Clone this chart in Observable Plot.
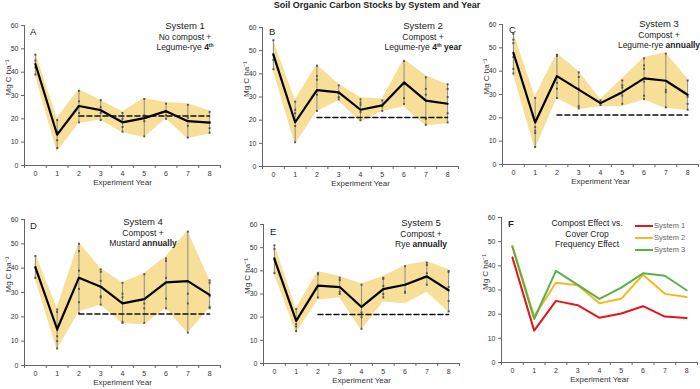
<!DOCTYPE html>
<html>
<head>
<meta charset="utf-8">
<script src="https://cdn.jsdelivr.net/npm/d3@7"></script>
<script src="https://cdn.jsdelivr.net/npm/@observablehq/plot@0.6"></script>
<style>
  html, body { margin: 0; padding: 0; background: #fff; }
  #wrap { position: relative; width: 700px; height: 389px; overflow: hidden;
          font-family: "Liberation Sans", Arial, sans-serif; color: #222; }
  #wrap > div.panel { position: absolute; }
  .title { position: absolute; left: 27px; top: 0; width: 700px; text-align: center;
           font-weight: bold; font-size: 9px; line-height: 11px; }
  .note { position: absolute; text-align: center; transform: translateX(-50%);
          white-space: nowrap; font-size: 8.5px; line-height: 10.5px; color: #222; }
  .note .h { font-size: 9.5px; }
  .note sup { font-size: 5px; vertical-align: 3px; line-height: 0; }
  .letter { position: absolute; font-size: 9.5px; color: #222; }
  .legend { position: absolute; font-size: 7.5px; color: #666; line-height: 12px; }
  .legend span.sw { display: inline-block; width: 18px; height: 2px; vertical-align: middle; margin-right: 1px; }
</style>
</head>
<body>
<div id="wrap">
  <div class="title">Soil Organic Carbon Stocks by System and Year</div>
</div>
<script>
// ---------- data ----------
const years = [0, 1, 2, 3, 4, 5, 6, 7, 8];
const xBoundaryTicks = [-0.5, 0.5, 1.5, 2.5, 3.5, 4.5, 5.5, 6.5, 7.5, 8.5];
const yTicks = [0, 10, 20, 30, 40, 50, 60];
const baselineYears = [2, 8];
const baselineValue = 21.2;

const s1Mean = [43.5, 13.2, 25.5, 23.7, 18.5, 20.3, 23.3, 19.0, 18.4];
const s1Lo   = [38.5, 5.8, 18.0, 19.5, 14.0, 12.0, 20.0, 11.5, 13.5];
const s1Hi   = [48.5, 20.3, 32.6, 28.0, 23.0, 28.7, 27.0, 26.5, 23.5];
const s1Reps = [[47.5,45,42,39],[19.5,14.5,10.8,7.5],[32,27.5,22.5,18.5],[28,25,22.5,19.5],
                [22.5,20,16.5,14.5],[28.5,21.5,19,12.5],[26.5,23,21.5,20],[26,20.5,17,12],[23,18.5,16,14]];

const s2Mean = [48.3, 19.1, 33.0, 32.0, 24.5, 26.4, 36.3, 28.4, 27.1];
const s2Lo   = [41.3, 9.5, 23.7, 28.4, 19.1, 23.7, 25.8, 17.6, 18.4];
const s2Hi   = [54.5, 28.7, 43.9, 35.6, 29.8, 29.1, 46.3, 39.2, 35.4];
const s2Reps = [[54.5,48.5,46,42],[28,24.5,23,17.5,10.5],[43.5,39,37.5,31,24],[35,31.5,30,29],
                [29,27.5,26.5,23.5,20],[28.5,26,24],[45.5,35.5,29.5,27],[38.5,33.5,31,20.5,18],[35.5,33.5,30,23,19]];

const s3Mean = [47.9, 18.0, 37.9, 32.1, 26.3, 31.0, 36.9, 35.9, 29.9];
const s3Lo   = [38.7, 6.4, 28.3, 23.6, 24.7, 24.7, 27.6, 24.0, 23.3];
const s3Hi   = [56.6, 29.0, 47.6, 40.0, 27.9, 36.7, 45.9, 47.9, 36.7];
const s3Reps = [[56,53.5,52,46,41,39],[28.5,16,14.5,13.5,7.5],[47,46.5,35,32.5,28.5],[39.5,37.5,32.5,25,24],
                [27.5,26.5,25.5],[36,34,33,29.5,26],[45.5,42.5,41,35.5,29.5,28],[47.5,32,31,24.5],[36,29,26,23.5]];

const s4Mean = [40.3, 14.9, 36.1, 32.4, 25.5, 27.3, 34.2, 34.7, 29.0];
const s4Lo   = [35.4, 6.4, 22.0, 24.9, 17.3, 16.7, 23.5, 13.3, 23.5];
const s4Hi   = [46.0, 23.5, 50.5, 39.9, 34.0, 37.8, 44.7, 55.3, 35.1];
const s4Reps = [[45,40.5,36],[23,22,14.5,12,10,7],[50,47,39,31.5,26,21.5],[39.5,38.5,34.8,28.5,28,25],
                [34,29.5,28,18,17.5],[37.5,25.5,23.5,17.5],[44,43,36,27.5,23.5],[55,29.5,25.5,13.5],[35,34,28.5,24,23.5]];

const s5Mean = [45.2, 18.4, 33.6, 33.0, 24.4, 32.1, 34.0, 37.6, 31.6];
const s5Lo   = [38.5, 13.2, 27.3, 28.4, 14.3, 26.5, 25.8, 30.8, 22.2];
const s5Hi   = [51.6, 23.7, 39.7, 37.6, 34.4, 37.6, 42.3, 44.0, 40.6];
const s5Reps = [[51,49.5,45.5,39],[23.5,17,16,14],[39,38.5,33.5,28.5],[37,36,31,30],
                [34,22,20,15],[37,36.5,33.5,30,28.5],[42,31,30.5],[43.5,42.5,39,34],[40,39.5,33,27,22.5]];

const fSeries = ["System 1", "System 2", "System 3"];
const fColors = ["#e3161b", "#f6b722", "#5bb04a"];

// ---------- drawing ----------
const wrap = document.getElementById("wrap");
const bandFill = "#f7df98";

function axes(xLabel) {
  return [
    Plot.ruleX([-0.5], {stroke: "#666", strokeWidth: 1}),
    Plot.ruleY([0], {stroke: "#666", strokeWidth: 1}),
    Plot.axisY({ticks: yTicks, tickSize: 3, tickPadding: 3, label: null, stroke: "#666", fill: "#333"}),
    Plot.axisX({ticks: xBoundaryTicks, tickSize: 3, tickFormat: () => "", label: null, stroke: "#666"}),
    Plot.axisX({ticks: years, tickSize: 0, tickPadding: 6, label: null, fill: "#333"}),
    Plot.text(["Mg C ha⁻¹"], {frameAnchor: "left", dx: -16, rotate: -90, text: d => d, fontSize: 8, fill: "#333"}),
    Plot.text([xLabel], {frameAnchor: "bottom", dy: 19, text: d => d, fontSize: 8, fill: "#333"})
  ];
}

function place(svg, left, top) {
  const d = document.createElement("div");
  d.className = "panel";
  d.style.left = left + "px";
  d.style.top = top + "px";
  d.appendChild(svg);
  wrap.appendChild(d);
}

function systemPanel(mean, lo, hi, reps, cfg) {
  const rows = years.map(i => ({x: i, mean: mean[i], lo: lo[i], hi: hi[i],
                                rmin: d3.min(reps[i]), rmax: d3.max(reps[i])}));
  const pts = years.flatMap(i => reps[i].map(v => ({x: i, y: v})));
  const base = baselineYears.map(x => ({x, y: baselineValue}));
  const svg = Plot.plot({
    width: cfg.w, height: cfg.h,
    marginTop: cfg.mt, marginBottom: cfg.mb, marginLeft: cfg.ml, marginRight: cfg.mr,
    style: {fontFamily: "Liberation Sans, Arial, sans-serif", fontSize: "7px", background: "transparent", overflow: "visible"},
    x: {domain: [-0.5, 8.5], axis: null},
    y: {domain: [0, 60], axis: null},
    marks: [
      Plot.areaY(rows, {x: "x", y1: "lo", y2: "hi", fill: bandFill, curve: "linear"}),
      Plot.ruleX(rows, {x: "x", y1: "rmin", y2: "rmax", stroke: "#8c8c84", strokeWidth: 1}),
      Plot.dot(pts, {x: "x", y: "y", symbol: "square", r: 1.1, fill: "#555", stroke: null}),
      Plot.line(base, {x: "x", y: "y", stroke: "#111", strokeWidth: 1.5, strokeDasharray: "5,3"}),
      Plot.line(rows, {x: "x", y: "mean", stroke: "#000", strokeWidth: 2.2}),
      ...axes("Experiment Year")
    ]
  });
  place(svg, cfg.left, cfg.top);
}

systemPanel(s1Mean, s1Lo, s1Hi, s1Reps, {left: 0,   top: 0,   w: 232, h: 190, mt: 25, mb: 25, ml: 24, mr: 12});
systemPanel(s2Mean, s2Lo, s2Hi, s2Reps, {left: 238, top: 0,   w: 232, h: 190, mt: 27, mb: 24, ml: 24, mr: 12});
systemPanel(s3Mean, s3Lo, s3Hi, s3Reps, {left: 478, top: 0,   w: 222, h: 190, mt: 24, mb: 26, ml: 24, mr: 2});
systemPanel(s4Mean, s4Lo, s4Hi, s4Reps, {left: 0,   top: 195, w: 232, h: 194, mt: 24, mb: 24, ml: 24, mr: 12});
systemPanel(s5Mean, s5Lo, s5Hi, s5Reps, {left: 239, top: 195, w: 232, h: 194, mt: 29, mb: 26, ml: 24, mr: 12});

// Panel F
{
  const means = [s1Mean, s2Mean, s3Mean];
  const rows = fSeries.flatMap((s, k) => years.map(i => ({x: i, y: means[k][i], s})));
  const svg = Plot.plot({
    width: 223, height: 194, marginTop: 22, marginBottom: 27, marginLeft: 24, marginRight: 3,
    style: {fontFamily: "Liberation Sans, Arial, sans-serif", fontSize: "7px", background: "transparent", overflow: "visible"},
    x: {domain: [-0.5, 8.5], axis: null},
    y: {domain: [0, 60], axis: null},
    color: {domain: fSeries, range: fColors},
    marks: [
      Plot.line(rows, {x: "x", y: "y", z: "s", stroke: "s", strokeWidth: 2}),
      ...axes("Experiment Year")
    ]
  });
  place(svg, 477, 195);
}

// ---------- annotations ----------
function note(html, cx, top) {
  const d = document.createElement("div");
  d.className = "note";
  d.style.left = cx + "px";
  d.style.top = top + "px";
  d.innerHTML = html;
  wrap.appendChild(d);
}
function letter(t, x, top, bold) {
  const d = document.createElement("div");
  d.className = "letter";
  d.style.left = x + "px";
  d.style.top = top + "px";
  if (bold) d.style.fontWeight = "bold";
  d.textContent = t;
  wrap.appendChild(d);
}

letter("A", 30, 26);
note('<span class="h">System 1</span><br>No compost +<br>Legume-rye <b>4<sup>th</sup></b>', 185, 21);
letter("B", 269, 26);
note('<span class="h">System 2</span><br>Compost +<br>Legume-rye <b>4<sup>th</sup> year</b>', 423, 21);
letter("C", 509, 24);
note('<span class="h">System 3</span><br>Compost +<br>Legume-rye <b>annually</b>', 659, 19);
letter("D", 30, 220);
note('<span class="h">System 4</span><br>Compost +<br>Mustard <b>annually</b>', 143, 217);
letter("E", 270, 226);
note('<span class="h">System 5</span><br>Compost +<br>Rye <b>annually</b>', 421, 218);
letter("F", 508, 218, true);
note('Compost Effect vs.<br>Cover Crop<br>Frequency Effect', 587, 218);

const leg = document.createElement("div");
leg.className = "legend";
leg.style.left = "635px";
leg.style.top = "220px";
leg.innerHTML = fSeries.map((s, k) => `<div><span class="sw" style="background:${fColors[k]}"></span>${s}</div>`).join("");
wrap.appendChild(leg);
</script>
</body>
</html>
